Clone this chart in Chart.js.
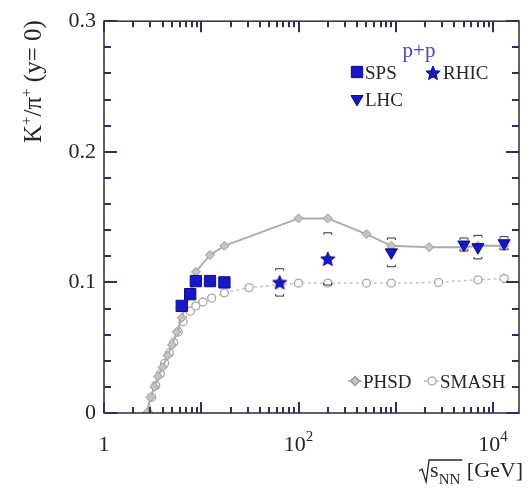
<!DOCTYPE html>
<html>
<head>
<meta charset="utf-8">
<script src="https://cdn.jsdelivr.net/npm/chart.js@4/dist/chart.umd.min.js"></script>
<style>
  html, body { margin: 0; padding: 0; background: #fff; }
</style>
</head>
<body>
<canvas id="ratio" width="528" height="491"></canvas>
<script>
// K+/pi+ at midrapidity in p+p vs sqrt(s_NN): PHSD / SMASH curves plus SPS, RHIC, LHC data
const phsdEnergy = [2.75, 3.0, 3.3, 3.6, 4.0, 4.5, 5.0, 5.6, 6.3, 7.7, 8.8, 12.3, 17.3, 100, 200, 500, 900, 2200, 5020, 7000, 13000];
const phsdRatio  = [0, 0.012, 0.02, 0.028, 0.035, 0.044, 0.052, 0.062, 0.073, 0.092, 0.108, 0.121, 0.128, 0.149, 0.149, 0.137, 0.128, 0.127, 0.127, 0.128, 0.128];

const smashEnergy = [2.85, 3.1, 3.4, 3.8, 4.2, 4.7, 5.2, 5.8, 6.5, 7.7, 8.8, 10.4, 12.8, 17.3, 31, 100, 200, 500, 900, 2760, 7000, 13000];
const smashRatio  = [0, 0.012, 0.021, 0.03, 0.038, 0.046, 0.054, 0.062, 0.07, 0.078, 0.082, 0.085, 0.088, 0.092, 0.096, 0.0995, 0.0995, 0.0995, 0.0995, 0.1, 0.102, 0.103];

const spsEnergy = [6.3, 7.7, 8.8, 12.3, 17.3];
const spsRatio  = [0.082, 0.091, 0.101, 0.101, 0.100];

const rhicEnergy = [64, 200];
const rhicRatio  = [0.100, 0.118];
const rhicErr    = [0.0105, 0.02];

const lhcEnergy = [900, 5020, 7000, 13000];
const lhcRatio  = [0.123, 0.129, 0.127, 0.130];
const lhcErr    = [0.011, 0.005, 0.009, 0.005];

const xTickLabels = [[1, '1', ''], [100, '10', '2'], [10000, '10', '4']];
const yTickValues = [0, 0.1, 0.2, 0.3];

const xMin = 1, xMax = 18500;
const blue = '#1717c9';
const blueEdge = '#0b0b8c';
const ink = '#262626';
const serif = '"Liberation Serif", "DejaVu Serif", serif';

// filled five-point star used as point style
function starImage(d, fill, edge) {
  const c = document.createElement('canvas');
  c.width = c.height = d;
  const g = c.getContext('2d');
  const cx = d / 2, cy = d / 2 + 0.5, ro = d / 2 - 0.5, ri = ro * 0.45;
  g.beginPath();
  for (let i = 0; i < 10; i++) {
    const r = i % 2 ? ri : ro;
    const a = -Math.PI / 2 + i * Math.PI / 5;
    g.lineTo(cx + r * Math.cos(a), cy + r * Math.sin(a));
  }
  g.closePath();
  g.fillStyle = fill;
  g.fill();
  g.strokeStyle = edge;
  g.lineWidth = 1;
  g.stroke();
  return c;
}
const star = starImage(16, blue, blueEdge);

const toPoints = (xs, ys) => xs.map((x, i) => ({ x, y: ys[i] }));

// text made of runs: [text, baseline shift, size]
function runsWidth(ctx, runs) {
  let w = 0;
  for (const [t, , s] of runs) { ctx.font = s + 'px ' + serif; w += ctx.measureText(t).width; }
  return w;
}
function drawRuns(ctx, runs, x, y) {
  for (const [t, dy, s] of runs) {
    ctx.font = s + 'px ' + serif;
    ctx.fillText(t, x, y + dy);
    x += ctx.measureText(t).width;
  }
  return x;
}

function cap(ctx, px, py, dir) {
  ctx.moveTo(px - 4, py + 2 * dir);
  ctx.lineTo(px - 4, py);
  ctx.lineTo(px + 4, py);
  ctx.lineTo(px + 4, py + 2 * dir);
}

// inward tick marks, filled as thin rectangles
function tickMarks(ctx, a, x, y) {
  for (let d = 0; d <= 4; d++) {
    for (let m = 1; m <= 9; m++) {
      const v = m * Math.pow(10, d);
      if (v < xMin || v > xMax) continue;
      const px = Math.round(x.getPixelForValue(v));
      const len = m === 1 ? 11 : 6;
      ctx.fillRect(px - 1, a.bottom - len, 2, len);
      ctx.fillRect(px - 1, a.top, 2, len);
    }
  }
  for (let i = 0; i <= 15; i++) {
    const py = Math.round(y.getPixelForValue(i * 0.02));
    const len = i % 5 === 0 ? 13 : 7;
    ctx.fillRect(a.left, py - 1, len, 2);
    ctx.fillRect(a.right - len, py - 1, len, 2);
  }
}

const framePlugin = {
  id: 'framePlugin',
  afterDatasetsDraw(chart) {
    const { ctx, scales: { x, y } } = chart;
    ctx.save();
    // systematic brackets on RHIC and LHC points
    ctx.strokeStyle = '#30305a';
    ctx.lineWidth = 1;
    ctx.beginPath();
    [[rhicEnergy, rhicRatio, rhicErr], [lhcEnergy, lhcRatio, lhcErr]].forEach(([xs, ys, es]) => {
      xs.forEach((e, i) => {
        const px = x.getPixelForValue(e);
        cap(ctx, px, y.getPixelForValue(ys[i] + es[i]), 1);
        cap(ctx, px, y.getPixelForValue(ys[i] - es[i]), -1);
      });
    });
    ctx.stroke();
    ctx.restore();
  },
  afterDraw(chart) {
    const { ctx, chartArea: a, scales: { x, y } } = chart;
    const h = Chart.helpers;
    ctx.save();

    // frame and ticks
    ctx.strokeStyle = '#3a3a3a';
    ctx.lineWidth = 1.6;
    ctx.setLineDash([]);
    ctx.strokeRect(a.left, a.top, a.right - a.left, a.bottom - a.top);
    ctx.fillStyle = '#303060';
    tickMarks(ctx, a, x, y);

    ctx.fillStyle = ink;
    ctx.textAlign = 'left';
    ctx.textBaseline = 'alphabetic';

    // x tick labels with exponents
    xTickLabels.forEach(([v, base, exp]) => {
      const runs = [[base, 0, 22], [exp, -10, 15]];
      const w = runsWidth(ctx, runs);
      drawRuns(ctx, runs, x.getPixelForValue(v) - w / 2, 451);
    });

    // x axis title: sqrt(s_NN) [GeV]
    const unit = ' [GeV]';
    ctx.font = '22px ' + serif;
    const wUnit = ctx.measureText(unit).width;
    ctx.font = '15px ' + serif;
    const wNN = ctx.measureText('NN').width;
    ctx.font = '22px ' + serif;
    const wS = ctx.measureText('s').width;
    let tx = 523 - wUnit;
    ctx.fillText(unit, tx, 477);
    tx -= wNN + 1;
    ctx.font = '15px ' + serif;
    ctx.fillText('NN', tx, 484);
    tx -= wS;
    ctx.font = '22px ' + serif;
    ctx.fillText('s', tx, 477);
    ctx.strokeStyle = ink;
    ctx.lineWidth = 1.3;
    ctx.beginPath();
    ctx.moveTo(tx - 11, 471);
    ctx.lineTo(tx - 8, 469);
    ctx.lineTo(tx - 4, 482);
    ctx.lineTo(tx - 1, 460);
    ctx.lineTo(tx + wS + wNN + 2, 460);
    ctx.stroke();

    // y axis title, rotated, ending at the top of the frame
    ctx.save();
    ctx.translate(41, a.top - 1);
    ctx.rotate(-Math.PI / 2);
    const yTitle = [['K', 0, 25], ['+', -10, 15], ['/π', 0, 25], ['+', -10, 15], [' (y= 0)', 0, 25]];
    drawRuns(ctx, yTitle, -runsWidth(ctx, yTitle), 0);
    ctx.restore();

    // data legend
    ctx.fillStyle = '#4545cf';
    ctx.font = '21px ' + serif;
    ctx.textAlign = 'center';
    ctx.fillText('p+p', 419, 57);
    ctx.textAlign = 'left';
    ctx.font = '19px ' + serif;
    ctx.fillStyle = blue; ctx.strokeStyle = blueEdge; ctx.lineWidth = 1;
    h.drawPoint(ctx, { pointStyle: 'rect', radius: 8, rotation: 0, borderWidth: 1 }, 357, 72);
    h.drawPoint(ctx, { pointStyle: 'triangle', radius: 7, rotation: 180, borderWidth: 1 }, 357, 99);
    ctx.drawImage(star, 433 - 8, 73 - 8);
    ctx.fillStyle = ink;
    ctx.fillText('SPS', 365, 79);
    ctx.fillText('RHIC', 443, 79);
    ctx.fillText('LHC', 365, 106);

    // model legend
    ctx.strokeStyle = '#aaa'; ctx.lineWidth = 1.5;
    ctx.beginPath(); ctx.moveTo(348, 381); ctx.lineTo(362, 381); ctx.stroke();
    ctx.fillStyle = '#c4c4c4'; ctx.strokeStyle = '#9a9a9a';
    h.drawPoint(ctx, { pointStyle: 'rectRot', radius: 4.5, rotation: 0, borderWidth: 1 }, 355, 381);
    ctx.strokeStyle = '#c4c4c4'; ctx.setLineDash([3, 3]);
    ctx.beginPath(); ctx.moveTo(424, 381); ctx.lineTo(440, 381); ctx.stroke();
    ctx.setLineDash([]);
    ctx.fillStyle = '#fff'; ctx.strokeStyle = '#a8a8a8'; ctx.lineWidth = 1.3;
    h.drawPoint(ctx, { pointStyle: 'circle', radius: 4, rotation: 0, borderWidth: 1.3 }, 432, 381);
    ctx.fillStyle = ink;
    ctx.fillText('PHSD', 363, 388);
    ctx.fillText('SMASH', 440, 388);
    ctx.restore();
  }
};

new Chart(document.getElementById('ratio'), {
  type: 'line',
  data: {
    datasets: [
      {
        label: 'SPS',
        data: toPoints(spsEnergy, spsRatio),
        showLine: false,
        pointStyle: 'rect',
        pointRadius: 8,
        backgroundColor: blue,
        borderColor: blueEdge,
        borderWidth: 1,
        order: 1
      },
      {
        label: 'RHIC',
        data: toPoints(rhicEnergy, rhicRatio),
        showLine: false,
        pointStyle: star,
        pointRadius: 8,
        order: 1
      },
      {
        label: 'LHC',
        data: toPoints(lhcEnergy, lhcRatio),
        showLine: false,
        pointStyle: 'triangle',
        pointRotation: 180,
        pointRadius: 7,
        backgroundColor: blue,
        borderColor: blueEdge,
        borderWidth: 1,
        order: 1
      },
      {
        label: 'PHSD',
        data: toPoints(phsdEnergy, phsdRatio),
        borderColor: '#acacac',
        borderWidth: 2,
        pointStyle: 'rectRot',
        pointRadius: 4.5,
        pointBackgroundColor: '#c4c4c4',
        pointBorderColor: '#9a9a9a',
        pointBorderWidth: 1,
        tension: 0,
        order: 2
      },
      {
        label: 'SMASH',
        data: toPoints(smashEnergy, smashRatio),
        borderColor: '#c4c4c4',
        borderWidth: 1.5,
        borderDash: [3, 3],
        pointStyle: 'circle',
        pointRadius: 4,
        pointBackgroundColor: '#fff',
        pointBorderColor: '#a8a8a8',
        pointBorderWidth: 1.3,
        tension: 0,
        order: 3
      }
    ]
  },
  options: {
    responsive: false,
    animation: false,
    devicePixelRatio: 1,
    layout: { padding: { top: 19, right: 6, left: 0, bottom: 0 } },
    plugins: { legend: { display: false }, tooltip: { enabled: false } },
    scales: {
      x: {
        type: 'logarithmic',
        min: xMin,
        max: xMax,
        grid: { display: false, drawTicks: false },
        border: { display: false },
        ticks: { display: false },
        afterFit: s => { s.height = 78; }
      },
      y: {
        type: 'linear',
        min: 0,
        max: 0.3,
        grid: { display: false, drawTicks: false },
        border: { display: false },
        afterBuildTicks: s => { s.ticks = yTickValues.map(v => ({ value: v })); },
        ticks: {
          padding: 8,
          color: ink,
          font: { family: serif, size: 22 },
          callback: v => (v === 0 ? '0' : v.toFixed(1))
        },
        afterFit: s => { s.width = 104; }
      }
    }
  },
  plugins: [framePlugin]
});
</script>
</body>
</html>
